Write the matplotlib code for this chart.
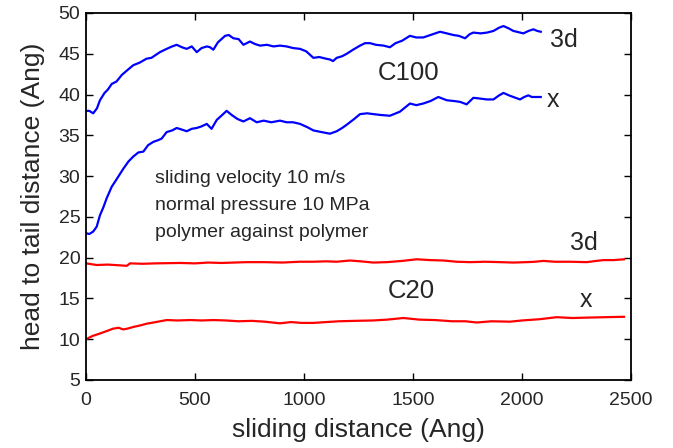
import matplotlib
matplotlib.use('Agg')
import matplotlib.pyplot as plt

plt.rcParams['font.family'] = ['Liberation Sans', 'DejaVu Sans']

# C100 chain, 3d head-to-tail distance
c100_3d_x = [0, 15, 33, 50, 64, 85, 100, 118, 140, 164, 190, 217, 245, 278, 300, 339, 370, 395,
             416, 440, 462, 485, 508, 530, 555, 569, 584, 605, 638, 655, 676, 700, 722, 752, 775,
             798, 830, 860, 890, 920, 950, 982, 1010, 1043, 1070, 1100, 1119, 1133, 1150, 1175,
             1196, 1225, 1257, 1280, 1303, 1330, 1365, 1394, 1420, 1450, 1486, 1515, 1547, 1580,
             1624, 1655, 1685, 1710, 1739, 1760, 1777, 1810, 1840, 1869, 1895, 1915, 1940, 1960,
             1976, 2006, 2030, 2052, 2070, 2086]
c100_3d_y = [38.0, 38.0, 37.7, 38.3, 39.3, 40.2, 40.6, 41.3, 41.6, 42.4, 43.0, 43.6, 43.9, 44.4,
             44.5, 45.2, 45.6, 45.9, 46.1, 45.8, 45.6, 45.9, 45.2, 45.7, 45.9, 45.8, 45.5, 46.4,
             47.2, 47.3, 46.9, 46.8, 46.1, 46.5, 46.2, 46.0, 46.1, 45.9, 46.0, 45.9, 45.7, 45.6,
             45.3, 44.5, 44.6, 44.4, 44.3, 44.1, 44.5, 44.7, 45.0, 45.5, 46.0, 46.3, 46.3, 46.1,
             46.0, 45.8, 46.3, 46.6, 47.2, 47.0, 47.0, 47.3, 47.7, 47.5, 47.3, 47.2, 46.9, 47.4,
             47.6, 47.5, 47.6, 47.8, 48.2, 48.4, 48.1, 47.8, 47.7, 47.5, 47.8, 48.0, 47.8, 47.7]

# C100 chain, x component
c100_x_x = [0, 15, 33, 49, 64, 80, 95, 118, 140, 171, 195, 217, 240, 263, 285, 309, 330, 347,
            370, 395, 416, 440, 462, 485, 508, 530, 554, 576, 600, 625, 645, 668, 695, 722, 752,
            783, 815, 850, 890, 920, 950, 982, 1015, 1043, 1080, 1119, 1150, 1175, 1196, 1230,
            1257, 1290, 1318, 1350, 1394, 1440, 1486, 1515, 1547, 1580, 1616, 1655, 1690, 1716,
            1746, 1777, 1810, 1838, 1869, 1895, 1915, 1940, 1960, 1991, 2010, 2029, 2045, 2060, 2086]
c100_x_y = [23.0, 22.9, 23.2, 23.8, 25.2, 26.2, 27.3, 28.7, 29.6, 30.9, 31.8, 32.4, 32.9, 33.0,
            33.8, 34.2, 34.4, 34.6, 35.4, 35.6, 35.9, 35.7, 35.5, 35.8, 35.9, 36.1, 36.4, 35.8,
            36.9, 37.5, 38.0, 37.5, 37.0, 36.7, 37.1, 36.6, 36.8, 36.6, 36.8, 36.6, 36.6, 36.4,
            36.0, 35.6, 35.4, 35.2, 35.5, 35.9, 36.3, 37.0, 37.6, 37.7, 37.6, 37.5, 37.4, 37.9,
            38.9, 38.7, 38.9, 39.2, 39.7, 39.3, 39.2, 39.1, 38.8, 39.6, 39.5, 39.4, 39.4, 39.9,
            40.2, 39.9, 39.7, 39.4, 39.7, 39.9, 39.7, 39.7, 39.7]

# C20 chain, 3d
c20_3d_x = [0, 49, 100, 160, 187, 202, 260, 320, 431, 500, 560, 620, 737, 820, 900, 980, 1043,
            1100, 1150, 1211, 1260, 1318, 1380, 1450, 1517, 1580, 1640, 1700, 1762, 1830, 1900,
            1960, 2021, 2060, 2098, 2150, 2220, 2297, 2340, 2373, 2420, 2468]
c20_3d_y = [19.3, 19.1, 19.15, 19.05, 19.0, 19.3, 19.25, 19.3, 19.35, 19.3, 19.4, 19.35, 19.45,
            19.45, 19.4, 19.5, 19.5, 19.55, 19.5, 19.65, 19.55, 19.4, 19.45, 19.6, 19.8, 19.7,
            19.65, 19.5, 19.45, 19.5, 19.45, 19.4, 19.45, 19.5, 19.6, 19.5, 19.5, 19.45, 19.6,
            19.7, 19.7, 19.8]

# C20 chain, x component
c20_x_x = [0, 15, 30, 64, 95, 125, 150, 171, 190, 217, 250, 278, 320, 370, 420, 480, 530, 584,
           640, 700, 760, 820, 890, 940, 990, 1043, 1100, 1160, 1230, 1318, 1380, 1456, 1530,
           1600, 1680, 1740, 1793, 1860, 1945, 2000, 2080, 2159, 2230, 2300, 2380, 2468]
c20_x_y = [10.0, 10.2, 10.4, 10.7, 11.0, 11.3, 11.4, 11.2, 11.3, 11.5, 11.7, 11.9, 12.1, 12.35,
           12.3, 12.35, 12.3, 12.35, 12.3, 12.2, 12.25, 12.15, 11.95, 12.1, 12.0, 12.0, 12.1,
           12.2, 12.25, 12.3, 12.4, 12.6, 12.4, 12.35, 12.2, 12.2, 12.05, 12.2, 12.15, 12.3,
           12.45, 12.7, 12.6, 12.65, 12.7, 12.75]

txt = '#262626'

fig = plt.figure(figsize=(6.73, 4.48), dpi=100)
ax = fig.add_axes([0.1278, 0.1518, 0.8098, 0.8192])

ax.plot(c100_3d_x, c100_3d_y, color='#0000ff', lw=1.6)
ax.plot(c100_x_x, c100_x_y, color='#0000ff', lw=1.6)
ax.plot(c20_3d_x, c20_3d_y, color='#ff0000', lw=1.6)
ax.plot(c20_x_x, c20_x_y, color='#ff0000', lw=1.6)

ax.set_xlim(0, 2500)
ax.set_ylim(5, 50)
ax.set_xticks([0, 500, 1000, 1500, 2000, 2500])
ax.set_yticks([5, 10, 15, 20, 25, 30, 35, 40, 45, 50])
ax.tick_params(direction='in', top=True, right=True, length=5, width=1,
               labelsize=14, labelcolor=txt)
ax.tick_params(axis='x', pad=9)
ax.tick_params(axis='y', pad=4)
for s in ax.spines.values():
    s.set_linewidth(1.3)

ax.set_xlabel('sliding distance (Ang)', fontsize=19, color=txt, labelpad=6)
ax.set_ylabel('head to tail distance (Ang)', fontsize=19, color=txt, labelpad=10)

# curve labels
ax.text(2128, 45.8, '3d', fontsize=18, color=txt, va='baseline')
ax.text(1339, 41.76, 'C100', fontsize=18.5, color=txt, va='baseline')
ax.text(2115, 38.46, 'x', fontsize=18, color=txt, va='baseline')
ax.text(2220, 20.93, '3d', fontsize=18, color=txt, va='baseline')
ax.text(1385, 15.05, 'C20', fontsize=18.5, color=txt, va='baseline')
ax.text(2266, 13.95, 'x', fontsize=18, color=txt, va='baseline')

# simulation conditions
ax.text(316, 29.2, 'sliding velocity 10 m/s', fontsize=14, color=txt, va='baseline')
ax.text(316, 25.8, 'normal pressure 10 MPa', fontsize=14, color=txt, va='baseline')
ax.text(316, 22.56, 'polymer against polymer', fontsize=14, color=txt, va='baseline')

plt.savefig('out.png', dpi=100)
